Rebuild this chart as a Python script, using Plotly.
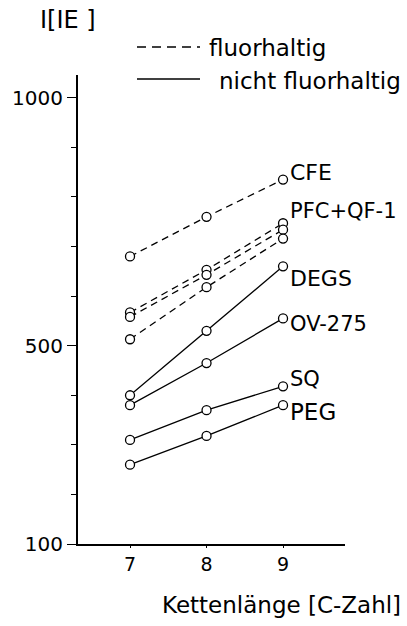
import plotly.graph_objects as go

chain = [7, 8, 9]
series_names = ["CFE", "PFC", "QF-1", "F3", "DEGS", "OV-275", "SQ", "PEG"]
cfe = [680, 760, 835]
pfc = [567, 653, 747]
qf1 = [558, 643, 734]
f3 = [513, 618, 716]
degs = [400, 530, 660]
ov275 = [380, 465, 555]
sq = [310, 370, 418]
peg = [260, 318, 380]
fluor = [True, True, True, True, False, False, False, False]
values = [cfe, pfc, qf1, f3, degs, ov275, sq, peg]

label_texts = ["CFE", "PFC+QF-1", "DEGS", "OV-275", "SQ", "PEG"]
label_series = [0, 1, 4, 5, 6, 7]
label_yshift = [7, 12, -12, -6, 7, -7]
label_size = [22, 21, 22, 21, 21, 23]

ytickvals = [100, 500, 1000]

FONT = "DejaVu Sans"
L, R, T, B = 78, 62, 75, 82
W, H = 407, 626
pw, ph = W - L - R, H - T - B

def px(x):
    return (x - L) / pw

def py(y):
    return (H - B - y) / ph

fig = go.Figure()
for name, vals, isf in zip(series_names, values, fluor):
    fig.add_trace(go.Scatter(
        x=chain, y=vals, mode="lines+markers", name=name,
        line=dict(color="black", width=1.3, dash="7px,5px" if isf else "solid"),
        marker=dict(symbol="circle", size=9, color="white",
                    line=dict(color="black", width=1.3)),
        showlegend=False,
    ))

annotations = []
for txt, si, ys, fs in zip(label_texts, label_series, label_yshift, label_size):
    annotations.append(dict(
        x=chain[-1], y=values[si][-1], xref="x", yref="y", text=txt,
        showarrow=False, xanchor="left", yanchor="middle", xshift=5, yshift=ys,
        font=dict(family=FONT, size=fs, color="black")))

annotations += [
    dict(x=px(38), y=py(20), xref="paper", yref="paper", text="I[IE ]",
         showarrow=False, xanchor="left", yanchor="middle",
         font=dict(family=FONT, size=24, color="black")),
    dict(x=px(207), y=py(48), xref="paper", yref="paper", text="fluorhaltig",
         showarrow=False, xanchor="left", yanchor="middle",
         font=dict(family=FONT, size=23, color="black")),
    dict(x=px(217), y=py(81), xref="paper", yref="paper", text="nicht fluorhaltig",
         showarrow=False, xanchor="left", yanchor="middle",
         font=dict(family=FONT, size=23, color="black")),
    dict(x=px(403), y=py(605), xref="paper", yref="paper", text="Kettenlänge [C-Zahl]",
         showarrow=False, xanchor="right", yanchor="middle",
         font=dict(family=FONT, size=23, color="black")),
]

shapes = [
    dict(type="line", xref="paper", yref="paper", x0=px(137), x1=px(200),
         y0=py(47), y1=py(47), line=dict(color="black", width=1.5, dash="9px,6px")),
    dict(type="line", xref="paper", yref="paper", x0=px(137), x1=px(200),
         y0=py(79), y1=py(79), line=dict(color="black", width=1.3)),
]

fig.update_layout(
    width=W, height=H, margin=dict(l=L, r=R, t=T, b=B),
    paper_bgcolor="white", plot_bgcolor="white",
    font=dict(family=FONT, size=20, color="black"),
    annotations=annotations, shapes=shapes,
    xaxis=dict(range=[6.32, 9.81], tickvals=chain, ticktext=[str(c) for c in chain],
               showgrid=False, zeroline=False, showline=True, linecolor="black",
               linewidth=2.2, ticks="outside", ticklen=2, tickcolor="black",
               tickfont=dict(family=FONT, size=19), fixedrange=True),
    yaxis=dict(range=[100, 1046], tickvals=ytickvals, ticktext=[str(v) for v in ytickvals],
               showgrid=False, zeroline=False, showline=True, linecolor="black",
               linewidth=2.2, ticks="outside", ticklen=9, tickcolor="black",
               tickfont=dict(family=FONT, size=20),
               minor=dict(tickmode="linear", tick0=100, dtick=100, ticks="outside",
                          ticklen=5, tickcolor="black", showgrid=False)),
)

fig.write_html("out.html")
